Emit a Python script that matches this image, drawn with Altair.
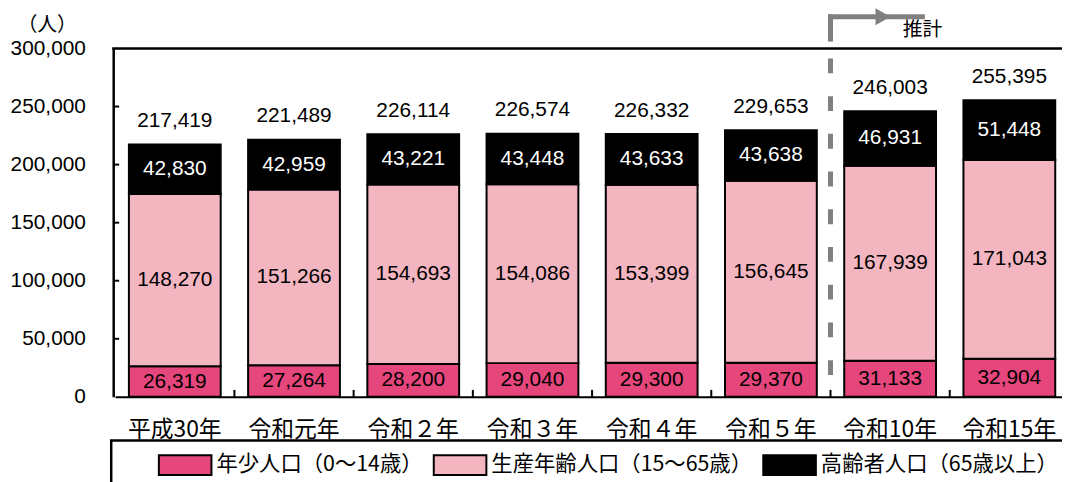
import altair as alt
import pandas as pd

categories = ["平成30年", "令和元年", "令和２年", "令和３年", "令和４年", "令和５年", "令和10年", "令和15年"]
young = [26319, 27264, 28200, 29040, 29300, 29370, 31133, 32904]
working = [148270, 151266, 154693, 154086, 153399, 156645, 167939, 171043]
elderly = [42830, 42959, 43221, 43448, 43633, 43638, 46931, 51448]
totals = [217419, 221489, 226114, 226574, 226332, 229653, 246003, 255395]
groups = ["年少人口（0～14歳）", "生産年齢人口（15～65歳）", "高齢者人口（65歳以上）"]
colors = ["#E5467B", "#F3B6C1", "#000000"]
text_colors = ["#000000", "#000000", "#FFFFFF"]
y_ticks = [0, 50000, 100000, 150000, 200000, 250000, 300000]

rows = []
for i, c in enumerate(categories):
    base = 0
    for g, (vals, tc) in enumerate(zip([young, working, elderly], text_colors)):
        v = vals[i]
        rows.append({"cat": c, "group": groups[g], "order": g, "value": v,
                     "start": base, "end": base + v, "mid": base + v / 2, "tc": tc})
        base += v
df = pd.DataFrame(rows)
tot = pd.DataFrame({"cat": categories, "total": totals})
ticks_df = pd.DataFrame({"v": y_ticks[1:-1]})
bound_df = pd.DataFrame({"cat": categories[1:]})

FONT = "Liberation Sans, Arial, Noto Sans CJK JP, sans-serif"
JFONT = "Noto Sans CJK JP, Liberation Sans, sans-serif"
W, H = 956, 351
X0, X1 = 2, 963
STEP = (X1 - X0) / 8
HALF_GAP = 0.23 * STEP / 2

yscale = alt.Scale(domain=[0, 300000], nice=False)
xscale = alt.Scale(paddingInner=0.23, paddingOuter=0.115, range=[X0, X1])
xenc = alt.X("cat:N", sort=categories, scale=xscale,
             axis=alt.Axis(title=None, labelAngle=0, labelFontSize=23, labelFont=JFONT,
                           labelColor="#000", tickSize=0, labelPadding=22,
                           domainColor="#000", domainWidth=2))

bars = alt.Chart(df).mark_bar(stroke="#000", strokeWidth=2).encode(
    x=xenc,
    y=alt.Y("start:Q", scale=yscale,
            axis=alt.Axis(title="（人）", titleAngle=0, titleAlign="center",
                          titleBaseline="middle", titleX=-67, titleY=-24,
                          titleFontSize=20, titleFont=JFONT, titleFontWeight="normal",
                          titleColor="#000",
                          values=y_ticks,
                          labelExpr="format(datum.value, ',')",
                          labelFontSize=21, labelFont=FONT, labelColor="#000",
                          tickSize=0, labelPadding=28, grid=False,
                          domainColor="#000", domainWidth=2.5)),
    y2="end:Q",
    color=alt.Color("group:N", sort=groups,
                    scale=alt.Scale(domain=groups, range=colors),
                    legend=alt.Legend(title=None, orient="none", direction="horizontal",
                                      legendX=45, legendY=392,
                                      symbolType="M-1,-0.377H1V0.377H-1Z", symbolSize=2809,
                                      symbolStrokeColor="#000", symbolStrokeWidth=2,
                                      symbolOpacity=1,
                                      labelFontSize=21.5, labelFont=JFONT, labelColor="#000",
                                      labelOffset=4, columnPadding=7, labelLimit=400)),
    order=alt.Order("order:Q"),
)

seg_text = alt.Chart(df).mark_text(fontSize=21, font=FONT).encode(
    x=alt.X("cat:N", sort=categories, scale=xscale),
    y=alt.Y("mid:Q", scale=yscale),
    text=alt.Text("value:Q", format=","),
    color=alt.Color("tc:N", scale=None),
)

tot_text = alt.Chart(tot).mark_text(fontSize=21, font=FONT, dy=-23.5, color="#000").encode(
    x=alt.X("cat:N", sort=categories, scale=xscale),
    y=alt.Y("total:Q", scale=yscale),
    text=alt.Text("total:Q", format=","),
)

ytick_marks = alt.Chart(ticks_df).mark_rule(color="#000", strokeWidth=2).encode(
    y=alt.Y("v:Q", scale=yscale), x=alt.value(0), x2=alt.value(6))

xtick_marks = alt.Chart(bound_df).mark_rule(color="#000", strokeWidth=2,
                                           xOffset=-HALF_GAP).encode(
    x=alt.X("cat:N", sort=categories, scale=xscale, bandPosition=0),
    y=alt.value(H - 7), y2=alt.value(H))

one = pd.DataFrame({"cat": ["令和10年"]})
xb = alt.X("cat:N", sort=categories, scale=xscale, bandPosition=0)

top_rule = alt.Chart(one).mark_rule(color="#000", strokeWidth=2.5).encode(
    x=alt.value(-1), x2=alt.value(W + 10), y=alt.value(0))

dash = alt.Chart(one).mark_rule(color="#808080", strokeWidth=5, strokeDash=[15, 23],
                               xOffset=-HALF_GAP).encode(
    x=xb, y=alt.value(10), y2=alt.value(H))
vert = alt.Chart(one).mark_rule(color="#808080", strokeWidth=5, xOffset=-HALF_GAP).encode(
    x=xb, y=alt.value(-34.5), y2=alt.value(-7))
horiz = alt.Chart(one).mark_rule(color="#808080", strokeWidth=5, xOffset=-HALF_GAP - 2.5,
                                x2Offset=35).encode(
    x=xb, x2=alt.X2("cat:N"), y=alt.value(-32))
head = alt.Chart(one).mark_point(shape="triangle-right", filled=True, color="#808080",
                                 size=300, opacity=1, xOffset=39).encode(
    x=xb, y=alt.value(-32))
label = alt.Chart(one).mark_text(text="推計", fontSize=20, font=JFONT, color="#000",
                                 align="left", xOffset=59).encode(
    x=xb, y=alt.value(-19))

legend_box = alt.Chart(one).mark_rect(fill=None, stroke="#000", strokeWidth=2.5).encode(
    x=alt.value(-2), x2=alt.value(W + 20), y=alt.value(395), y2=alt.value(450))

chart = alt.layer(bars, seg_text, tot_text, ytick_marks, xtick_marks, top_rule, dash, vert,
                  horiz, head, label, legend_box).properties(
    width=W, height=H,
    autosize=alt.AutoSizeParams(type="none"),
    padding={"left": 106, "top": 39, "right": 0, "bottom": 84},
).configure_view(stroke=None).configure(background="white")

chart.save("out.html", embed_options={"renderer": "svg", "actions": False})
